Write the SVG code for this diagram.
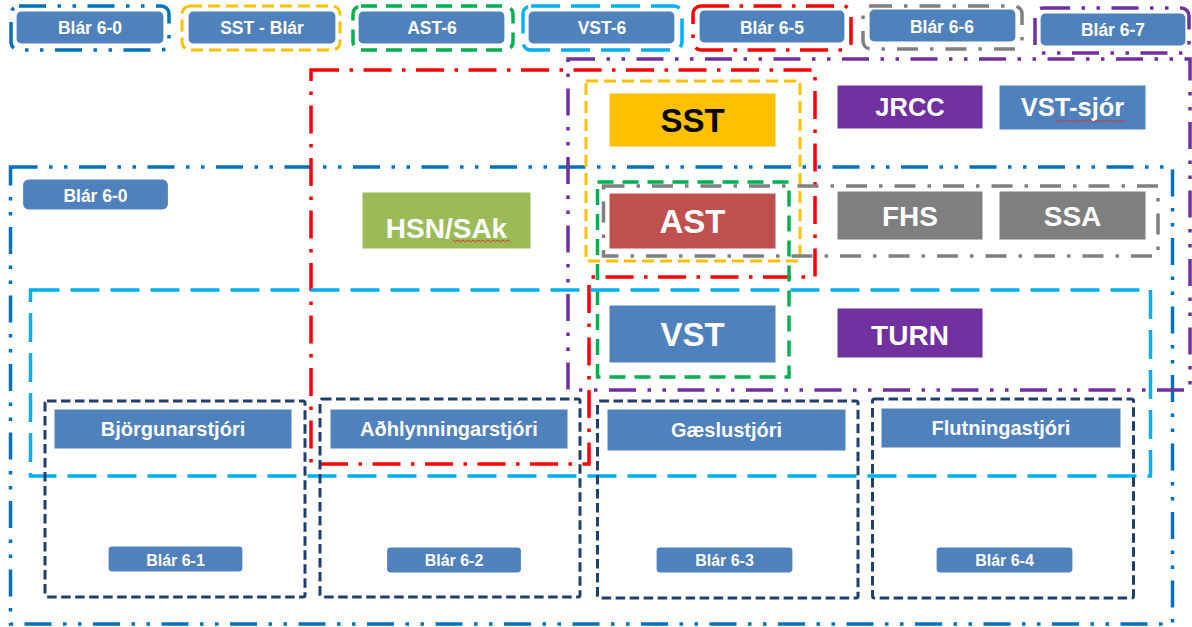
<svg xmlns="http://www.w3.org/2000/svg" width="1192" height="627" viewBox="0 0 1192 627">
<style>
.fr{fill:none;stroke-width:3.5}
.ddd{stroke-dasharray:27 11.5 3.5 11.5 3.5 11.5}
.dd{stroke-dasharray:28 10.5 3.5 10.5}
.gdd{stroke-dasharray:21 12 3.5 12}
.ld{stroke-dasharray:29 11}
.gd{stroke-dasharray:16 9}
.yd{stroke-dasharray:12 6;stroke-width:3}
.nd{fill:none;stroke:#1F3F6E;stroke-width:3;stroke-dasharray:9.5 4.5}
.blu{stroke:#0070C0}.yel{stroke:#FFC000}.grn{stroke:#00B050}.lbl{stroke:#00B0F0}.red{stroke:#FF0000}.gry{stroke:#808080}.pur{stroke:#7030A0}
.bx{fill:#4F81BD;stroke:#fff;stroke-width:1.2}
.sq{stroke:#fff;stroke-width:1}
t,text{font-family:"Liberation Sans",Arial,sans-serif;font-weight:bold;text-anchor:middle;fill:#fff}
.lg{font-size:17.5px}
.big{font-size:33px}
.mid{font-size:28px}
.role{font-size:20px}
.sm{font-size:16px}
.wav{fill:none;stroke:#E03030;stroke-width:1}
</style>
<defs>
<marker id="none" markerWidth="1" markerHeight="1"/>
</defs>

<!-- Legend -->
<g id="legend-blar-6-0">
<rect class="fr ddd blu" x="11" y="6" width="158" height="44" rx="8"/>
<rect class="bx" x="16" y="11" width="148" height="33" rx="5"/>
<text class="lg" x="90" y="34">Blár 6-0</text>
</g>
<g id="legend-sst-blar">
<rect class="fr yd yel" x="182" y="6" width="158" height="44" rx="8"/>
<rect class="bx" x="188" y="11" width="148" height="33" rx="5"/>
<text class="lg" x="262" y="34">SST - Blár</text>
</g>
<g id="legend-ast-6">
<rect class="fr gd grn" x="353" y="6" width="160" height="44" rx="8"/>
<rect class="bx" x="358" y="11" width="147" height="33" rx="5"/>
<text class="lg" x="432" y="34">AST-6</text>
</g>
<g id="legend-vst-6">
<rect class="fr ld lbl" x="523" y="6" width="159" height="44" rx="8"/>
<rect class="bx" x="528" y="11" width="147" height="33" rx="5"/>
<text class="lg" x="602" y="34">VST-6</text>
</g>
<g id="legend-blar-6-5">
<rect class="fr dd red" x="693" y="6" width="158" height="44" rx="8"/>
<rect class="bx" x="699" y="10" width="146" height="33" rx="5"/>
<text class="lg" x="772" y="34">Blár 6-5</text>
</g>
<g id="legend-blar-6-6">
<rect class="fr gdd gry" x="863" y="6" width="159" height="43" rx="8"/>
<rect class="bx" x="869" y="9" width="147" height="33" rx="5"/>
<text class="lg" x="942" y="33">Blár 6-6</text>
</g>
<g id="legend-blar-6-7">
<rect class="fr ddd pur" x="1035" y="8" width="154" height="45" rx="8"/>
<rect class="bx" x="1040" y="13" width="146" height="33" rx="5"/>
<text class="lg" x="1113" y="36">Blár 6-7</text>
</g>

<!-- Frames -->
<g id="frame-blar-6-0"><rect class="fr ddd blu" x="10.5" y="167" width="1162" height="457"/></g>
<g id="frame-blar-6-7"><rect class="fr ddd pur" x="568" y="59" width="622" height="331"/></g>
<g id="frame-blar-6-5"><path class="fr dd red" d="M311,70 H815 V277 H589 V464 H311 Z"/></g>
<g id="frame-sst"><rect class="fr yd yel" x="586" y="81" width="214" height="180"/></g>
<g id="frame-blar-6-6"><rect class="fr gdd gry" x="603.5" y="186" width="554.5" height="70"/></g>
<g id="frame-ast"><rect class="fr gd grn" x="597.5" y="182" width="191.5" height="195"/></g>
<g id="frame-vst"><rect class="fr ld lbl" x="30.5" y="290" width="1120" height="186"/></g>

<!-- Role groups -->
<g id="group-6-1"><rect class="nd" x="45" y="401" width="260" height="196" rx="2"/></g>
<g id="group-6-2"><rect class="nd" x="320" y="399" width="260" height="198" rx="2"/></g>
<g id="group-6-3"><rect class="nd" x="597.5" y="401" width="260.5" height="197" rx="2"/></g>
<g id="group-6-4"><rect class="nd" x="872.5" y="399" width="261" height="199" rx="2"/></g>

<!-- Nodes -->
<g id="blar-6-0">
<rect class="bx" x="22.5" y="179" width="146" height="31" rx="6"/>
<text class="lg" x="95.5" y="201.5">Blár 6-0</text>
</g>
<g id="hsn-sak">
<rect class="sq" fill="#9BBB59" x="362" y="192" width="169" height="57"/>
<text class="mid" x="446.5" y="238">HSN/SAk</text>
<path class="wav" d="M453,240 l2.5,2 l2.5,-2 l2.5,2 l2.5,-2 l2.5,2 l2.5,-2 l2.5,2 l2.5,-2 l2.5,2 l2.5,-2 l2.5,2 l2.5,-2 l2.5,2 l2.5,-2 l2.5,2 l2.5,-2 l2.5,2 l2.5,-2 l2.5,2 l2.5,-2 l2.5,2 l2.5,-2 l2.5,2"/>
</g>
<g id="sst">
<rect class="sq" fill="#FFC000" x="609" y="93" width="167" height="54"/>
<text class="big" x="692.5" y="132" style="fill:#000">SST</text>
</g>
<g id="jrcc">
<rect class="sq" fill="#7030A0" x="837" y="85" width="146" height="44"/>
<text x="910" y="116" style="font-size:25.5px">JRCC</text>
</g>
<g id="vst-sjor">
<rect class="sq" fill="#4F81BD" x="999" y="85" width="147" height="45"/>
<text x="1072.5" y="116" style="font-size:25.5px">VST-sjór</text>
<path class="wav" d="M1056,120 l2.5,2 l2.5,-2 l2.5,2 l2.5,-2 l2.5,2 l2.5,-2 l2.5,2 l2.5,-2 l2.5,2 l2.5,-2 l2.5,2 l2.5,-2 l2.5,2 l2.5,-2 l2.5,2 l2.5,-2 l2.5,2 l2.5,-2 l2.5,2 l2.5,-2 l2.5,2 l2.5,-2 l2.5,2 l2.5,-2 l2.5,2 l2.5,-2 l2.5,2 l2.5,-2"/>
</g>
<g id="ast">
<rect class="sq" fill="#C0504D" x="609" y="193" width="167" height="56"/>
<text class="big" x="692.5" y="233">AST</text>
</g>
<g id="fhs">
<rect class="sq" fill="#7F7F7F" x="837" y="191" width="146" height="49"/>
<text class="mid" x="910" y="226">FHS</text>
</g>
<g id="ssa">
<rect class="sq" fill="#7F7F7F" x="999" y="191" width="147" height="49"/>
<text class="mid" x="1072.5" y="226">SSA</text>
</g>
<g id="vst">
<rect class="sq" fill="#4F81BD" x="609" y="305" width="167" height="58"/>
<text class="big" x="692.5" y="346">VST</text>
</g>
<g id="turn">
<rect class="sq" fill="#7030A0" x="837" y="308" width="146" height="50"/>
<text class="mid" x="910" y="344.5">TURN</text>
</g>
<g id="bjorgunarstjori">
<rect class="sq" fill="#4F81BD" x="54" y="409" width="238" height="40"/>
<text class="role" x="173" y="436">Björgunarstjóri</text>
</g>
<g id="adhlynningarstjori">
<rect class="sq" fill="#4F81BD" x="330" y="409" width="238" height="40"/>
<text class="role" x="449" y="436">Aðhlynningarstjóri</text>
</g>
<g id="gaeslustjori">
<rect class="sq" fill="#4F81BD" x="607" y="409" width="239" height="42"/>
<text class="role" x="726.5" y="437">Gæslustjóri</text>
</g>
<g id="flutningastjori">
<rect class="sq" fill="#4F81BD" x="881" y="408" width="240" height="40"/>
<text class="role" x="1001" y="435">Flutningastjóri</text>
</g>
<g id="blar-6-1">
<rect class="bx" x="108" y="546" width="135" height="26" rx="4"/>
<text class="sm" x="175.5" y="565.5">Blár 6-1</text>
</g>
<g id="blar-6-2">
<rect class="bx" x="386.5" y="547" width="135" height="26" rx="4"/>
<text class="sm" x="454" y="566">Blár 6-2</text>
</g>
<g id="blar-6-3">
<rect class="bx" x="656" y="547" width="137" height="26" rx="4"/>
<text class="sm" x="724.5" y="566">Blár 6-3</text>
</g>
<g id="blar-6-4">
<rect class="bx" x="936" y="547" width="137" height="26" rx="4"/>
<text class="sm" x="1004.5" y="566">Blár 6-4</text>
</g>

<g id="connectors"/>
</svg>
